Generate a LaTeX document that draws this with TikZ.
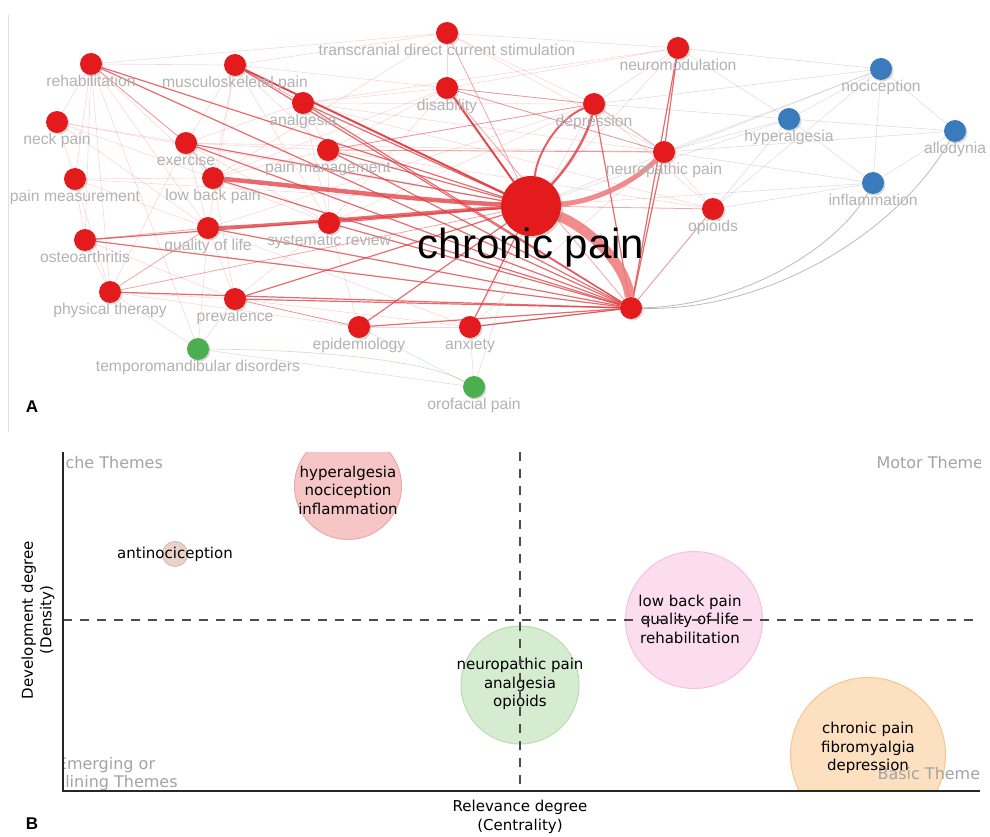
\documentclass[tikz,border=0pt]{standalone}
\usepackage{fontspec}
\setmainfont{Liberation Sans}
\newfontfamily\plotfont{DejaVu Sans}
\usetikzlibrary{shadows,backgrounds}

\definecolor{nodered}{HTML}{E31B1C}
\definecolor{nodeblue}{HTML}{3A7BBE}
\definecolor{nodegreen}{HTML}{4BAE4F}
\definecolor{edgered}{HTML}{E0393E}
\definecolor{bandred}{HTML}{EF7E80}
\definecolor{labelgrey}{HTML}{B2B2B2}
\definecolor{quadgrey}{HTML}{A3A3A3}
\definecolor{hypfill}{HTML}{F6C6C7}
\definecolor{hypline}{HTML}{F0A7A9}
\definecolor{antfill}{HTML}{E9D3C8}
\definecolor{antline}{HTML}{DDBDAE}
\definecolor{lbpfill}{HTML}{FCDCEF}
\definecolor{lbpline}{HTML}{F6C2E1}
\definecolor{npfill}{HTML}{D5ECD1}
\definecolor{npline}{HTML}{B7DDAE}
\definecolor{cpfill}{HTML}{FDE0C0}
\definecolor{cpline}{HTML}{F8C48E}

\tikzset{
  kw/.style={circle, fill=nodered, minimum size=22pt, inner sep=0pt, label distance=0pt,
    drop shadow={shadow xshift=1.5pt, shadow yshift=-1.5pt, opacity=.3}},
  kwblue/.style={kw, fill=nodeblue},
  kwgreen/.style={kw, fill=nodegreen},
  lbl/.style={font=\fontsize{15.7}{18}\selectfont, text=labelgrey, inner sep=0pt},
  strongedge/.style={draw=edgered, opacity=.75, line width=1.2pt},
  midedge/.style={draw=edgered, opacity=.45, line width=.8pt},
  faintedge/.style={draw=edgered, opacity=.2, line width=.6pt},
  greyedge/.style={draw=gray, opacity=.25, line width=.6pt},
  bubble/.style={circle, line width=1pt, inner sep=0pt},
  btext/.style={font=\plotfont\fontsize{15}{18.5}\selectfont, align=center},
  quadtext/.style={font=\plotfont\fontsize{16}{18.5}\selectfont, text=quadgrey, align=center},
}

\begin{document}
\begin{tikzpicture}[x=1pt, y=-1pt]
\useasboundingbox (0,0) rectangle (990,837);

% A: keyword network
\draw[black!12] (8,15) -- (8,432);

\node[circle, fill=nodered, minimum size=60pt, inner sep=0pt,
  drop shadow={shadow xshift=2pt, shadow yshift=-2pt, opacity=.3}] (cp) at (531,206) {};
\node[kw, label={[lbl]below:rehabilitation}] (reh) at (91,64) {};
\node[kw, label={[lbl]below:musculoskeletal pain}] (msk) at (235,65) {};
\node[kw, label={[lbl]below:transcranial direct current stimulation}] (tdcs) at (447,33) {};
\node[kw, label={[lbl]below:neuromodulation}] (nmod) at (678,48) {};
\node[kw, label={[lbl]below:disability}] (dis) at (447,88) {};
\node[kw, label={[lbl]below:analgesia}] (ana) at (303,103) {};
\node[kw, label={[lbl]below:depression}] (dep) at (594,104) {};
\node[kw, label={[lbl]below:neck pain}] (neck) at (57,122) {};
\node[kw, label={[lbl]below:exercise}] (exe) at (186,143) {};
\node[kw, label={[lbl]below:pain management}] (pm) at (328,150) {};
\node[kw, label={[lbl]below:neuropathic pain}] (np) at (664,152) {};
\node[kw, label={[lbl]below:pain measurement}] (pmeas) at (75,179) {};
\node[kw, label={[lbl]below:low back pain}] (lbp) at (213,178) {};
\node[kw, label={[lbl]below:opioids}] (opi) at (713,209) {};
\node[kw, label={[lbl]below:quality of life}] (qol) at (208,228) {};
\node[kw, label={[lbl]below:systematic review}] (sr) at (329,223) {};
\node[kw, label={[lbl]below:osteoarthritis}] (oa) at (85,240) {};
\node[kw, label={[lbl]below:physical therapy}] (pt) at (110,292) {};
\node[kw, label={[lbl]below:prevalence}] (prev) at (235,299) {};
\node[kw, label={[lbl]below:epidemiology}] (epi) at (359,327) {};
\node[kw, label={[lbl]below:anxiety}] (anx) at (470,327) {};
\node[kw] (fib) at (631,308) {};
\node[kwgreen, label={[lbl]below:temporomandibular disorders}] (tmd) at (198,349) {};
\node[kwgreen, label={[lbl]below:orofacial pain}] (ofp) at (474,387) {};
\node[kwblue, label={[lbl]below:nociception}] (noc) at (881,69) {};
\node[kwblue, label={[lbl]below:hyperalgesia}] (hyp) at (789,119) {};
\node[kwblue, label={[lbl]below:allodynia}] (all) at (955,131) {};
\node[kwblue, label={[lbl]below:inflammation}] (inf) at (873,183) {};
\node[font=\fontsize{42}{44}\selectfont, anchor=base] (cplbl) at (531,258) {chronic pain};
\node[font=\bfseries\fontsize{17}{20}\selectfont] (panela) at (32,407) {A};

\begin{scope}[on background layer]
  \foreach \a/\b in {reh/msk, reh/neck, reh/exe, reh/lbp, reh/pt, reh/oa, reh/qol, reh/pmeas,
      msk/exe, msk/lbp, msk/pm, msk/dis, msk/tdcs, msk/qol, msk/sr, neck/exe, neck/lbp,
      neck/pmeas, neck/qol, exe/qol, exe/pt, exe/pm, exe/ana, exe/sr, pmeas/lbp, pmeas/qol,
      pmeas/oa, pmeas/pt, lbp/pm, lbp/sr, lbp/dis, lbp/prev, qol/sr, qol/prev, qol/dep,
      qol/anx, sr/pm, sr/ana, sr/dis, sr/epi, sr/prev, sr/dep, ana/pm, ana/dis, ana/np,
      ana/opi, ana/dep, pm/dis, pm/dep, pm/opi, pm/np, dis/dep, dis/tdcs, dis/np, dis/nmod,
      tdcs/nmod, tdcs/dep, tdcs/reh, tdcs/lbp, tdcs/np, nmod/dep, nmod/ana, dep/anx, dep/opi,
      np/opi, np/anx, np/exe, prev/epi, prev/pt, prev/anx, epi/anx, epi/pt, oa/pt, oa/prev,
      tmd/qol, tmd/prev, tmd/reh, tmd/pt, cp/nmod, cp/neck, cp/pmeas}
    \draw[faintedge] (\a) -- (\b);
  \foreach \a/\b in {noc/hyp, noc/all, noc/inf, hyp/all, hyp/inf, all/inf, hyp/np, hyp/dep,
      noc/dep, noc/np, noc/cp, hyp/cp, inf/cp, nmod/hyp, nmod/noc, inf/opi, all/np, noc/opi,
      inf/np, hyp/fib, ofp/anx, ofp/cp, ofp/epi, tmd/ofp}
    \draw[greyedge] (\a) -- (\b);
  \foreach \a/\b in {cp/opi, cp/tdcs, cp/pt, fib/opi, np/dep, qol/oa, qol/pt, lbp/exe,
      reh/exe, msk/ana, dep/dis, fib/dis, np/dis, dep/pm, np/pm, anx/fib, epi/prev}
    \draw[midedge] (\a) -- (\b);
  \foreach \a/\b in {cp/reh, cp/msk, cp/ana, cp/pm, cp/exe, cp/sr, cp/dis, cp/epi, cp/anx,
      cp/oa, cp/prev, fib/reh, fib/msk, fib/ana, fib/pm, fib/exe, fib/qol, fib/lbp, fib/sr,
      fib/oa, fib/pt, fib/prev, fib/epi, fib/anx, fib/dep, fib/np, fib/nmod, nmod/np}
    \draw[strongedge] (\a) -- (\b);
  % heavy links of the hub
  \draw[draw=edgered, opacity=.8, line width=2pt] (cp) -- (msk);
  \draw[draw=edgered, opacity=.8, line width=2pt] (cp) -- (dis);
  \draw[draw=edgered, opacity=.8, line width=2pt] (cp) .. controls (538,150) and (560,118) .. (dep);
  \draw[draw=edgered, opacity=.8, line width=2.5pt] (cp) .. controls (570,165) and (588,135) .. (dep);
  \draw[draw=edgered, opacity=.75, line width=3pt] (cp) .. controls (420,212) and (300,224) .. (qol);
  \draw[draw=edgered, opacity=.75, line width=4.5pt] (cp) .. controls (410,200) and (300,186) .. (lbp);
  \draw[draw=bandred, opacity=.9, line width=5pt] (cp) .. controls (592,202) and (632,184) .. (np);
  \draw[draw=bandred, opacity=.9, line width=10pt] (cp) .. controls (585,226) and (626,262) .. (fib);
  \draw[draw=gray, opacity=.55, line width=.8pt] (fib) .. controls (770,312) and (900,230) .. (all);
  \draw[draw=gray, opacity=.55, line width=.8pt] (fib) .. controls (745,306) and (840,245) .. (inf);
  \draw[draw=nodegreen, opacity=.3, line width=.7pt] (tmd) .. controls (330,350) and (430,362) .. (ofp);
\end{scope}

% B: thematic map
\begin{scope}
  \clip (63,452) rectangle (980,791);
  \node[bubble, fill=hypfill, draw=hypline, minimum size=107pt] (bhyp) at (348,486) {};
  \node[bubble, fill=antfill, draw=antline, minimum size=25pt] (bant) at (175,554) {};
  \node[bubble, fill=lbpfill, draw=lbpline, minimum size=137pt] (blbp) at (694,620) {};
  \node[bubble, fill=npfill, draw=npline, minimum size=118pt] (bnp) at (520,685) {};
  \node[bubble, fill=cpfill, draw=cpline, minimum size=155pt] (bcp) at (868,755) {};
  \node[quadtext] (qniche) at (106,463) {Niche Themes};
  \node[quadtext, anchor=west] (qmotor) at (873,463) {Motor Themes};
  \node[quadtext] (qemerg) at (106,774) {Emerging or\\Declining Themes};
  \node[quadtext, anchor=west] (qbasic) at (874,774) {Basic Themes};
\end{scope}

\node[btext] (thyp) at (348,490) {hyperalgesia\\nociception\\inflammation};
\node[btext] (tant) at (175,554) {antinociception};
\node[btext] (tlbp) at (690,619) {low back pain\\quality of life\\rehabilitation};
\node[btext] (tnp) at (520,684) {neuropathic pain\\analgesia\\opioids};
\node[btext] (tcp) at (868,748) {chronic pain\\fibromyalgia\\depression};

\draw[draw=black!70, line width=1.3pt, dash pattern=on 9pt off 8pt] (520,452) -- (520,791);
\draw[draw=black!70, line width=1.3pt, dash pattern=on 9pt off 8pt] (63,620) -- (980,620);
\draw[draw=black!85, line width=1.1pt] (63,452) -- (63,791) -- (980,791);

\node[btext, rotate=90] (ylab) at (38,620) {Development degree\\(Density)};
\node[btext] (xlab) at (520,817) {Relevance degree\\(Centrality)};
\node[font=\bfseries\fontsize{17}{20}\selectfont] (panelb) at (32,824) {B};
\end{tikzpicture}
\end{document}
